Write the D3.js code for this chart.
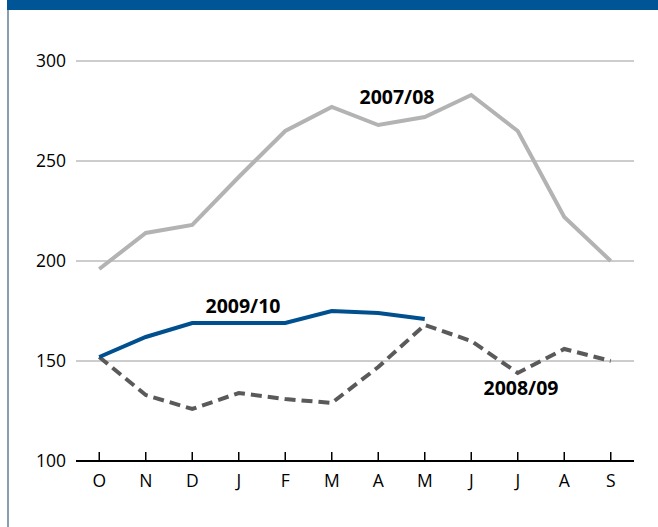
<!DOCTYPE html>
<html><head><meta charset="utf-8">
<script src="https://cdn.jsdelivr.net/npm/d3@7"></script>
<style>body{margin:0;background:#fff;} svg{display:block;font-family:"Open Sans",sans-serif;}</style>
</head><body>
<script>
const months = ["O","N","D","J","F","M","A","M","J","J","A","S"];
const yTicks = [100,150,200,250,300];
const s0708 = [196,214,218,242,265,277,268,272,283,265,222,200];
const s0809 = [152,133,126,134,131,129,147,168,160,144,156,150];
const s0910 = [152,162,169,169,169,175,174,171];
const seriesLabels = ["2007/08","2008/09","2009/10"];

const W=658,H=527;
const svg=d3.select("body").append("svg").attr("width",W).attr("height",H);
svg.append("rect").attr("x",7).attr("y",0).attr("width",W-7).attr("height",10).attr("fill","#005596");
svg.append("line").attr("x1",8).attr("x2",8).attr("y1",10).attr("y2",H).attr("stroke","#5f7f95").attr("stroke-width",1.5);

const x=d3.scalePoint().domain(d3.range(12)).range([76,634]).padding(0.5);
const y=d3.scaleLinear().domain([100,300]).range([461,61]);

// grid
svg.append("g").selectAll("line").data(yTicks.filter(d=>d>100)).join("line")
 .attr("x1",76).attr("x2",634).attr("y1",d=>y(d)).attr("y2",d=>y(d))
 .attr("stroke","#9a9a9a").attr("stroke-width",1);
// y labels
svg.append("g").selectAll("text").data(yTicks).join("text")
 .attr("x",66).attr("y",d=>y(d)).attr("dy","0.35em").attr("text-anchor","end")
 .attr("font-size",17.5).attr("fill","#000").text(d=>d);
// x axis
const xa=svg.append("g").attr("transform","translate(0,461)");
xa.append("line").attr("x1",76).attr("x2",634).attr("stroke","#000").attr("stroke-width",2);
xa.selectAll("line.t").data(d3.range(12)).join("line").attr("class","t")
 .attr("x1",d=>x(d)).attr("x2",d=>x(d)).attr("y1",-9).attr("y2",0).attr("stroke","#000").attr("stroke-width",1.5);
xa.selectAll("text").data(months).join("text")
 .attr("x",(d,i)=>x(i)).attr("y",20).attr("dy","0.35em").attr("text-anchor","middle")
 .attr("font-size",17.5).text(d=>d);

const line=d3.line().x((d,i)=>x(i)).y(d=>y(d));
svg.append("path").datum(s0708).attr("d",line).attr("fill","none").attr("stroke","#b3b3b3").attr("stroke-width",4);
svg.append("path").datum(s0809).attr("d",line).attr("fill","none").attr("stroke","#5a5a5a").attr("stroke-width",4).attr("stroke-dasharray","11,6");
svg.append("path").datum(s0910).attr("d",line).attr("fill","none").attr("stroke","#00508f").attr("stroke-width",4);

const lab=[{t:seriesLabels[0],x:397,y:97},{t:seriesLabels[2],x:243,y:306},{t:seriesLabels[1],x:521,y:388}];
svg.append("g").selectAll("text").data(lab).join("text")
 .attr("x",d=>d.x).attr("y",d=>d.y).attr("dy","0.35em").attr("text-anchor","middle")
 .attr("font-size",19.5).attr("font-weight","bold").text(d=>d.t);
</script>
</body></html>
